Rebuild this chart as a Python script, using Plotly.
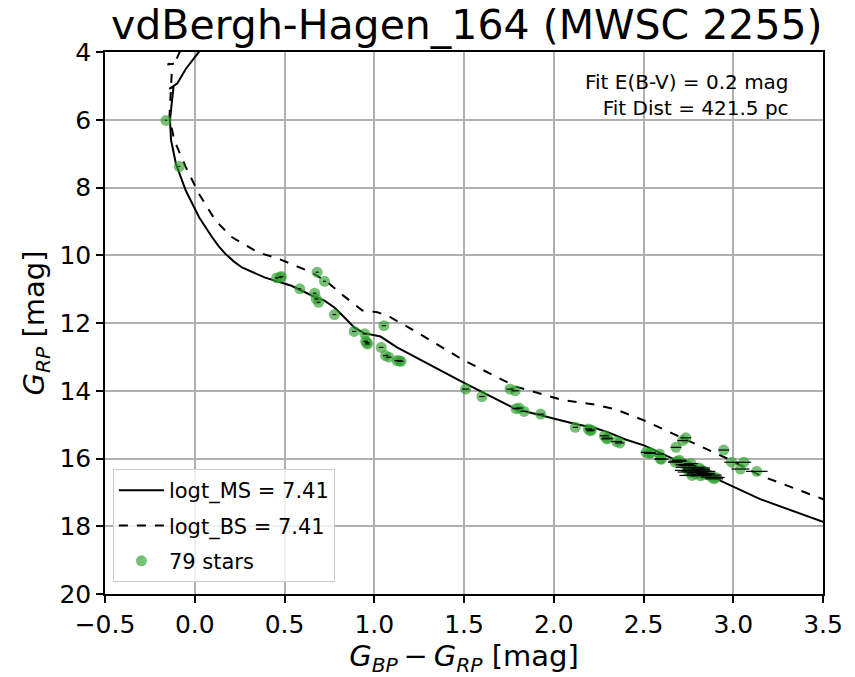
import plotly.graph_objects as go

# Best-fit isochrone (main sequence), colour / magnitude
ms_color = [0.03, -0.05, -0.098, -0.142, -0.118, -0.128, -0.138, -0.132, -0.105, -0.05,
            0.024, 0.097, 0.134, 0.171, 0.217, 0.263, 0.327, 0.392, 0.539, 0.649,
            0.723, 0.778, 0.833, 0.888, 0.943, 1.035, 1.127, 1.237, 1.495, 1.789,
            1.936, 2.12, 2.23, 2.304, 2.396, 2.506, 2.69, 2.966, 3.15, 3.5, 3.6]
ms_mag = [3.95, 4.5, 4.93, 5.09, 5.02, 5.5, 6.02, 6.6, 7.3, 8.09,
          8.88, 9.47, 9.74, 9.96, 10.18, 10.36, 10.52, 10.66, 10.9, 11.18,
          11.34, 11.54, 11.83, 12.13, 12.3, 12.4, 12.72, 13.03, 13.75, 14.54,
          14.74, 14.98, 15.1, 15.23, 15.43, 15.62, 16.07, 16.76, 17.2, 17.87, 18.05]

# Same isochrone shifted for unresolved equal-mass binaries
bs_color = [-0.08, -0.105, -0.152, -0.122, -0.128, -0.132, -0.141, -0.114, -0.05, 0.024,
            0.116, 0.208, 0.3, 0.355, 0.465, 0.649, 0.741, 0.815, 0.888, 0.934,
            1.017, 1.09, 1.237, 1.495, 1.789, 2.046, 2.23, 2.34, 2.506, 2.745,
            2.966, 3.15, 3.5, 3.6]
bs_mag = [3.95, 4.25, 4.37, 4.35, 4.6, 5.04, 5.92, 6.61, 7.4, 8.19,
          8.98, 9.47, 9.76, 9.92, 10.1, 10.5, 10.8, 11.14, 11.44, 11.63,
          11.68, 11.83, 12.27, 13.09, 13.88, 14.27, 14.41, 14.54, 14.88, 15.47,
          16.0, 16.5, 17.19, 17.4]

# Member stars: BP-RP colour, RP magnitude, colour uncertainty
star_color = [-0.16, -0.086, 0.456, 0.483, 0.682, 0.723, 0.585, 0.668, 0.677, 0.69,
              0.778, 0.888, 0.947, 0.952, 0.962, 1.054, 1.039, 1.063, 1.081, 1.127,
              1.149, 1.509, 1.6, 1.756, 1.785, 1.807, 1.835, 1.927, 2.12, 2.193,
              2.203, 2.282, 2.295, 2.35, 2.368, 2.515, 2.534, 2.589, 2.594, 2.676,
              2.681, 2.718, 2.736, 2.745, 2.765, 2.745, 2.78, 2.791, 2.818, 2.82,
              2.84, 2.902, 2.947, 2.99, 3.04, 3.06, 3.131, 2.865, 2.893, 2.70,
              2.76, 2.80, 2.77, 2.85, 2.81, 2.73, 2.88, 2.79, 2.54, 2.30,
              2.21, 1.79, 0.475, 0.96, 1.14, 2.69, 2.83, 2.76, 2.60]
star_mag = [6.02, 7.38, 10.67, 10.63, 10.50, 10.77, 10.99, 11.12, 11.29, 11.39,
            11.75, 12.25, 12.32, 12.54, 12.62, 12.08, 12.72, 12.96, 13.01, 13.11,
            13.13, 13.95, 14.17, 13.95, 14.0, 14.51, 14.61, 14.69, 15.08, 15.13,
            15.18, 15.33, 15.42, 15.5, 15.54, 15.82, 15.85, 15.87, 16.01, 16.11,
            15.67, 15.47, 15.39, 16.21, 16.15, 16.35, 16.31, 16.46, 16.51, 16.33,
            16.38, 16.56, 15.75, 16.11, 16.31, 16.11, 16.38, 16.49, 16.6, 16.05,
            16.26, 16.42, 16.50, 16.44, 16.28, 16.18, 16.55, 16.37, 15.83, 15.40,
            15.16, 14.53, 10.65, 12.58, 13.12, 16.08, 16.47, 16.40, 16.02]
star_err = [0.004, 0.005, 0.01, 0.01, 0.008, 0.008, 0.008, 0.01, 0.01, 0.01,
            0.01, 0.012, 0.012, 0.012, 0.012, 0.012, 0.012, 0.015, 0.015, 0.015,
            0.015, 0.02, 0.015, 0.02, 0.02, 0.02, 0.02, 0.02, 0.015, 0.02,
            0.02, 0.025, 0.03, 0.03, 0.025, 0.03, 0.03, 0.025, 0.03, 0.04,
            0.03, 0.03, 0.03, 0.05, 0.04, 0.07, 0.06, 0.05, 0.06, 0.05,
            0.06, 0.05, 0.03, 0.04, 0.05, 0.04, 0.06, 0.07, 0.05, 0.04,
            0.08, 0.06, 0.07, 0.05, 0.06, 0.05, 0.06, 0.08, 0.03, 0.03,
            0.02, 0.02, 0.01, 0.012, 0.015, 0.05, 0.06, 0.07, 0.04]

x_ticks = [-0.5, 0.0, 0.5, 1.0, 1.5, 2.0, 2.5, 3.0, 3.5]
y_ticks = [4, 6, 8, 10, 12, 14, 16, 18, 20]

FONT = "DejaVu Sans"

fig = go.Figure()
fig.add_trace(go.Scatter(
    x=ms_color, y=ms_mag, mode="lines", name="logt_MS = 7.41", legendgroup="ms",
    line=dict(color="black", width=2)))
fig.add_trace(go.Scatter(
    x=bs_color, y=bs_mag, mode="lines", name="logt_BS = 7.41", legendgroup="bs",
    line=dict(color="black", width=2, dash="dash")))
fig.add_trace(go.Scatter(
    x=star_color, y=star_mag, mode="markers", name=f"{len(star_color)} stars",
    legendgroup="stars",
    marker=dict(color="rgba(44,160,44,0.65)", size=11, line=dict(width=0))))
# colour error bars drawn over the markers
fig.add_trace(go.Scatter(
    x=star_color, y=star_mag, mode="markers", showlegend=False, hoverinfo="skip",
    marker=dict(color="rgba(0,0,0,0)", size=1),
    error_x=dict(type="data", array=star_err, color="black", thickness=1.2, width=0)))

axis_common = dict(
    showline=True, linecolor="black", linewidth=1.6, mirror=True,
    ticks="outside", ticklen=7, tickwidth=1.6, tickcolor="black",
    showgrid=True, gridcolor="#b0b0b0", gridwidth=1.5, zeroline=False,
    tickfont=dict(family=FONT, size=25, color="black"),
)

fig.update_xaxes(
    range=[-0.5, 3.5], tickvals=x_ticks, tickformat=".1f",
    title=dict(text="<i>G</i><sub><i>BP</i></sub>\u2009−\u2009<i>G</i><sub><i>RP</i></sub> [mag]",
               font=dict(family=FONT, size=29, color="black"), standoff=6),
    **axis_common)
fig.update_yaxes(
    range=[20, 4], tickvals=y_ticks,
    title=dict(text="<i>G</i><sub><i>RP</i></sub> [mag]",
               font=dict(family=FONT, size=29, color="black"), standoff=6),
    **axis_common)

fig.update_layout(
    width=855, height=677,
    margin=dict(l=105, r=25, t=52, b=83),
    paper_bgcolor="white", plot_bgcolor="white",
    font=dict(family=FONT, color="black"),
    title=dict(text="vdBergh-Hagen_164 (MWSC 2255)", x=0.546, xanchor="center",
               y=1 - 25 / 677, yanchor="middle", yref="container",
               font=dict(family=FONT, size=41, color="black")),
    legend=dict(x=0.011, y=0.022, xanchor="left", yanchor="bottom",
                bgcolor="rgba(255,255,255,0.8)", bordercolor="#cccccc", borderwidth=1,
                tracegroupgap=5, itemwidth=45,
                font=dict(family=FONT, size=21, color="black")),
    showlegend=True,
    annotations=[dict(
        text="Fit E(B-V) = 0.2 mag<br>Fit Dist = 421.5 pc",
        xref="paper", yref="paper", x=0.955, y=0.97, xanchor="right", yanchor="top",
        align="right", showarrow=False,
        font=dict(family=FONT, size=20, color="black"))],
)

fig.write_html("out.html")
